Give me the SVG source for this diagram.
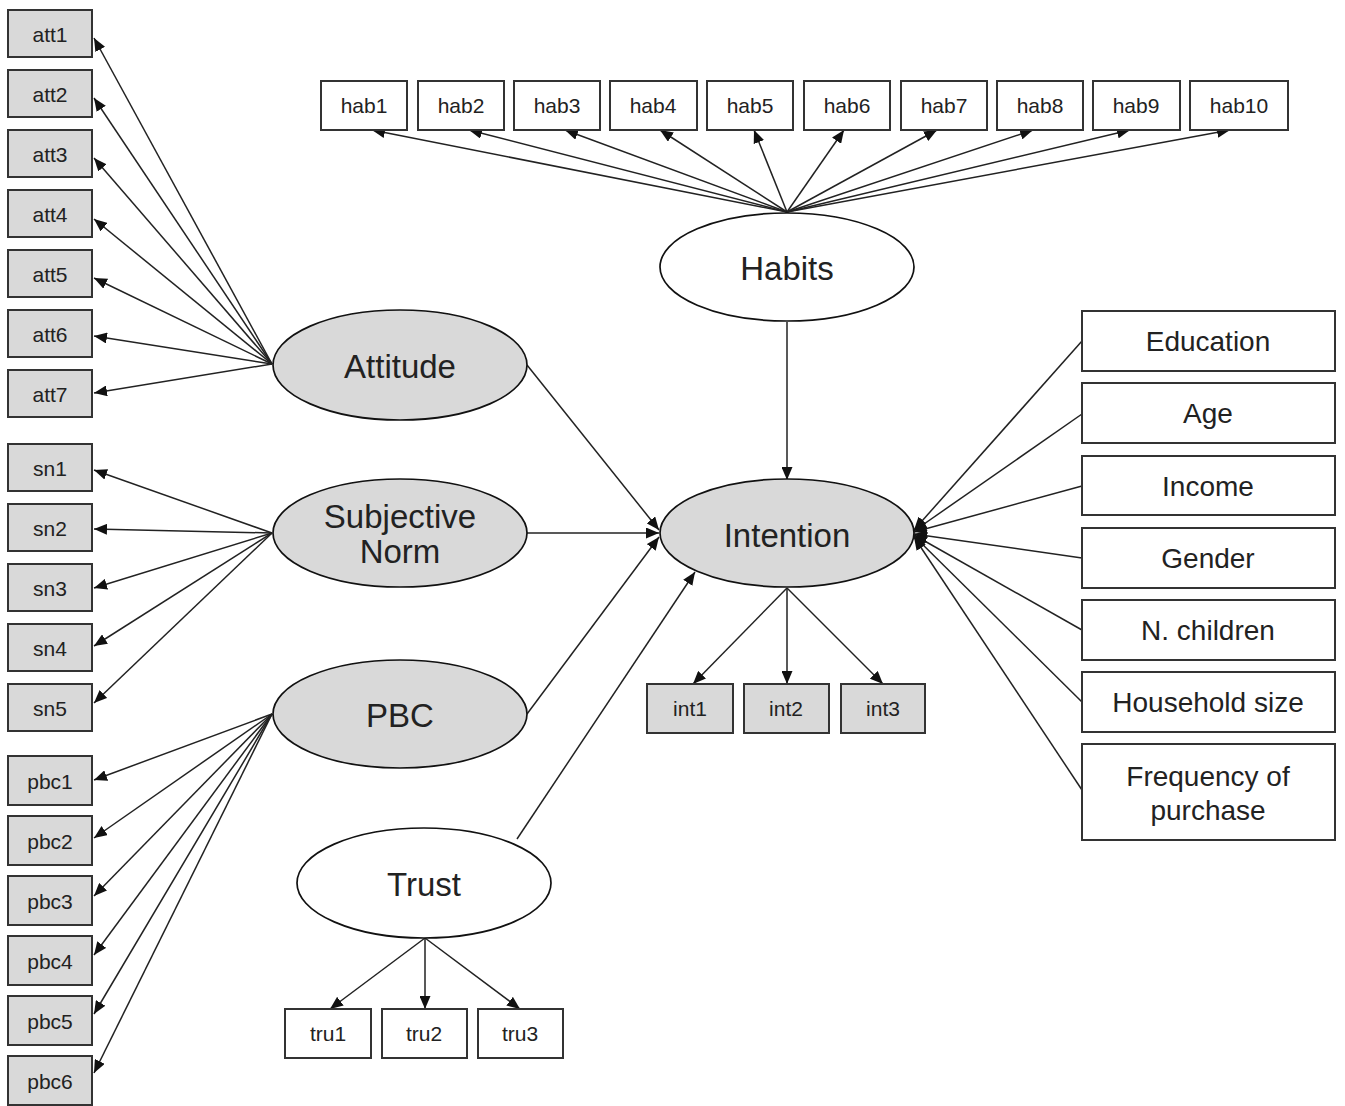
<svg xmlns="http://www.w3.org/2000/svg" width="1345" height="1106" viewBox="0 0 1345 1106">
<style>
.bg{fill:#d9d9d9;stroke:#333;stroke-width:2}
.bw{fill:#fff;stroke:#333;stroke-width:2}
.eg{fill:#d9d9d9;stroke:#111;stroke-width:1.7}
.ew{fill:#fff;stroke:#111;stroke-width:1.7}
text{font-family:"Liberation Sans",Arial,sans-serif;fill:#222;text-anchor:middle;dominant-baseline:central}
.s{font-size:21px}
.m{font-size:28px}
.l{font-size:33px}
#connectors line{stroke:#222;stroke-width:1.5;marker-end:url(#ah)}
</style>
<defs>
<marker id="ah" markerUnits="userSpaceOnUse" markerWidth="13" markerHeight="11" refX="13" refY="5.5" orient="auto">
<path d="M0,0 L13,5.5 L0,11 z" fill="#111"/>
</marker>
</defs>
<rect width="1345" height="1106" fill="#fff"/>
<g id="connectors">
<line x1="272" y1="364" x2="94" y2="38"/>
<line x1="272" y1="364" x2="94" y2="98"/>
<line x1="272" y1="364" x2="94" y2="158"/>
<line x1="272" y1="364" x2="94" y2="219"/>
<line x1="272" y1="364" x2="94" y2="278"/>
<line x1="272" y1="364" x2="94" y2="336"/>
<line x1="272" y1="364" x2="94" y2="393"/>
<line x1="272" y1="533" x2="94" y2="470"/>
<line x1="272" y1="533" x2="94" y2="529"/>
<line x1="272" y1="533" x2="94" y2="588"/>
<line x1="272" y1="533" x2="94" y2="646"/>
<line x1="272" y1="533" x2="94" y2="703"/>
<line x1="272" y1="714" x2="94" y2="780"/>
<line x1="272" y1="714" x2="94" y2="838"/>
<line x1="272" y1="714" x2="94" y2="896"/>
<line x1="272" y1="714" x2="94" y2="955"/>
<line x1="272" y1="714" x2="94" y2="1014"/>
<line x1="272" y1="714" x2="94" y2="1073"/>
<line x1="787" y1="212" x2="372" y2="130"/>
<line x1="787" y1="212" x2="469" y2="130"/>
<line x1="787" y1="212" x2="565" y2="130"/>
<line x1="787" y1="212" x2="660" y2="130"/>
<line x1="787" y1="212" x2="754" y2="130"/>
<line x1="787" y1="212" x2="844" y2="130"/>
<line x1="787" y1="212" x2="937" y2="130"/>
<line x1="787" y1="212" x2="1033" y2="130"/>
<line x1="787" y1="212" x2="1130" y2="130"/>
<line x1="787" y1="212" x2="1230" y2="130"/>
<line x1="787" y1="322" x2="787" y2="480"/>
<line x1="527" y1="365" x2="659" y2="530"/>
<line x1="527" y1="533" x2="659" y2="533"/>
<line x1="527" y1="714" x2="659" y2="537"/>
<line x1="517" y1="839" x2="695" y2="572"/>
<line x1="787" y1="588" x2="693" y2="684"/>
<line x1="787" y1="588" x2="787" y2="684"/>
<line x1="787" y1="588" x2="883" y2="684"/>
<line x1="425" y1="938" x2="330" y2="1009"/>
<line x1="425" y1="938" x2="425" y2="1009"/>
<line x1="425" y1="938" x2="520" y2="1009"/>
<line x1="1082" y1="341" x2="914" y2="530"/>
<line x1="1082" y1="414" x2="914" y2="531"/>
<line x1="1082" y1="486" x2="914" y2="532"/>
<line x1="1082" y1="558" x2="914" y2="534"/>
<line x1="1082" y1="630" x2="914" y2="535"/>
<line x1="1082" y1="702" x2="914" y2="536"/>
<line x1="1082" y1="790" x2="914" y2="537"/>
</g>
<g id="att1"><rect class="bg" x="8" y="10" width="84" height="47"/><text class="s" x="50" y="34">att1</text></g>
<g id="att2"><rect class="bg" x="8" y="70" width="84" height="47"/><text class="s" x="50" y="94">att2</text></g>
<g id="att3"><rect class="bg" x="8" y="130" width="84" height="47"/><text class="s" x="50" y="154">att3</text></g>
<g id="att4"><rect class="bg" x="8" y="190" width="84" height="47"/><text class="s" x="50" y="214">att4</text></g>
<g id="att5"><rect class="bg" x="8" y="250" width="84" height="47"/><text class="s" x="50" y="274">att5</text></g>
<g id="att6"><rect class="bg" x="8" y="310" width="84" height="47"/><text class="s" x="50" y="334">att6</text></g>
<g id="att7"><rect class="bg" x="8" y="370" width="84" height="47"/><text class="s" x="50" y="394">att7</text></g>
<g id="sn1"><rect class="bg" x="8" y="444" width="84" height="47"/><text class="s" x="50" y="468">sn1</text></g>
<g id="sn2"><rect class="bg" x="8" y="504" width="84" height="47"/><text class="s" x="50" y="528">sn2</text></g>
<g id="sn3"><rect class="bg" x="8" y="564" width="84" height="47"/><text class="s" x="50" y="588">sn3</text></g>
<g id="sn4"><rect class="bg" x="8" y="624" width="84" height="47"/><text class="s" x="50" y="648">sn4</text></g>
<g id="sn5"><rect class="bg" x="8" y="684" width="84" height="47"/><text class="s" x="50" y="708">sn5</text></g>
<g id="pbc1"><rect class="bg" x="8" y="756" width="84" height="49"/><text class="s" x="50" y="781">pbc1</text></g>
<g id="pbc2"><rect class="bg" x="8" y="816" width="84" height="49"/><text class="s" x="50" y="841">pbc2</text></g>
<g id="pbc3"><rect class="bg" x="8" y="876" width="84" height="49"/><text class="s" x="50" y="901">pbc3</text></g>
<g id="pbc4"><rect class="bg" x="8" y="936" width="84" height="49"/><text class="s" x="50" y="961">pbc4</text></g>
<g id="pbc5"><rect class="bg" x="8" y="996" width="84" height="49"/><text class="s" x="50" y="1021">pbc5</text></g>
<g id="pbc6"><rect class="bg" x="8" y="1056" width="84" height="49"/><text class="s" x="50" y="1081">pbc6</text></g>
<g id="hab1"><rect class="bw" x="321" y="81" width="86" height="49"/><text class="s" x="364" y="105">hab1</text></g>
<g id="hab2"><rect class="bw" x="418" y="81" width="86" height="49"/><text class="s" x="461" y="105">hab2</text></g>
<g id="hab3"><rect class="bw" x="514" y="81" width="86" height="49"/><text class="s" x="557" y="105">hab3</text></g>
<g id="hab4"><rect class="bw" x="610" y="81" width="87" height="49"/><text class="s" x="653" y="105">hab4</text></g>
<g id="hab5"><rect class="bw" x="707" y="81" width="86" height="49"/><text class="s" x="750" y="105">hab5</text></g>
<g id="hab6"><rect class="bw" x="804" y="81" width="86" height="49"/><text class="s" x="847" y="105">hab6</text></g>
<g id="hab7"><rect class="bw" x="901" y="81" width="86" height="49"/><text class="s" x="944" y="105">hab7</text></g>
<g id="hab8"><rect class="bw" x="997" y="81" width="86" height="49"/><text class="s" x="1040" y="105">hab8</text></g>
<g id="hab9"><rect class="bw" x="1093" y="81" width="87" height="49"/><text class="s" x="1136" y="105">hab9</text></g>
<g id="hab10"><rect class="bw" x="1190" y="81" width="98" height="49"/><text class="s" x="1239" y="105">hab10</text></g>
<g id="Habits"><ellipse class="ew" cx="787" cy="267" rx="127" ry="54"/><text class="l" x="787" y="268">Habits</text></g>
<g id="Attitude"><ellipse class="eg" cx="400" cy="365" rx="127" ry="55"/><text class="l" x="400" y="366">Attitude</text></g>
<g id="SubjectiveNorm"><ellipse class="eg" cx="400" cy="533" rx="127" ry="54"/><text class="l" x="400" y="516">Subjective</text><text class="l" x="400" y="551">Norm</text></g>
<g id="PBC"><ellipse class="eg" cx="400" cy="714" rx="127" ry="54"/><text class="l" x="400" y="715">PBC</text></g>
<g id="Trust"><ellipse class="ew" cx="424" cy="883" rx="127" ry="55"/><text class="l" x="424" y="884">Trust</text></g>
<g id="Intention"><ellipse class="eg" cx="787" cy="533" rx="127" ry="54"/><text class="l" x="787" y="535">Intention</text></g>
<g id="int1"><rect class="bg" x="647" y="684" width="86" height="49"/><text class="s" x="690" y="708">int1</text></g>
<g id="int2"><rect class="bg" x="744" y="684" width="85" height="49"/><text class="s" x="786" y="708">int2</text></g>
<g id="int3"><rect class="bg" x="841" y="684" width="84" height="49"/><text class="s" x="883" y="708">int3</text></g>
<g id="tru1"><rect class="bw" x="285" y="1009" width="86" height="49"/><text class="s" x="328" y="1033">tru1</text></g>
<g id="tru2"><rect class="bw" x="382" y="1009" width="85" height="49"/><text class="s" x="424" y="1033">tru2</text></g>
<g id="tru3"><rect class="bw" x="478" y="1009" width="85" height="49"/><text class="s" x="520" y="1033">tru3</text></g>
<g id="Education"><rect class="bw" x="1082" y="311" width="253" height="60"/><text class="m" x="1208" y="341">Education</text></g>
<g id="Age"><rect class="bw" x="1082" y="383" width="253" height="60"/><text class="m" x="1208" y="413">Age</text></g>
<g id="Income"><rect class="bw" x="1082" y="456" width="253" height="59"/><text class="m" x="1208" y="486">Income</text></g>
<g id="Gender"><rect class="bw" x="1082" y="528" width="253" height="60"/><text class="m" x="1208" y="558">Gender</text></g>
<g id="Nchildren"><rect class="bw" x="1082" y="600" width="253" height="60"/><text class="m" x="1208" y="630">N. children</text></g>
<g id="Householdsize"><rect class="bw" x="1082" y="672" width="253" height="60"/><text class="m" x="1208" y="702">Household size</text></g>
<g id="Frequency"><rect class="bw" x="1082" y="744" width="253" height="96"/><text class="m" x="1208" y="776">Frequency of</text><text class="m" x="1208" y="810">purchase</text></g>
</svg>
